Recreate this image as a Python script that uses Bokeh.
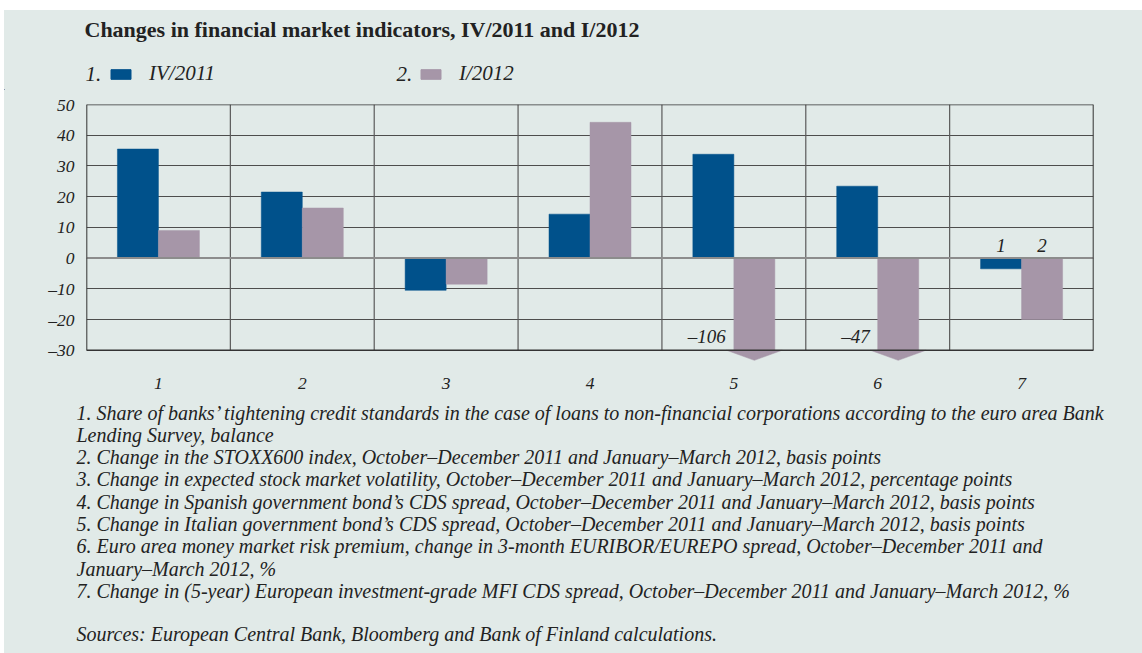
from bokeh.plotting import figure
from bokeh.layouts import column, row
from bokeh.models import Range1d, FixedTicker, Label, Legend, LegendItem, Spacer
from bokeh.embed import file_html
from bokeh.resources import INLINE

# ---------------- data ----------------
categories = ["1", "2", "3", "4", "5", "6", "7"]
iv_2011 = [35.5, 21.5, -10.5, 14.3, 33.8, 23.4, -3.5]
i_2012 = [9.0, 16.3, -8.5, 44.2, -106.0, -47.0, -20.0]
y_ticks = [-30, -20, -10, 0, 10, 20, 30, 40, 50]
y_tick_labels = ["–30", "–20", "–10", "0", "10", "20", "30", "40", "50"]
series_names = ["IV/2011", "I/2012"]
series_numbers = ["1.", "2."]
title_text = "Changes in financial market indicators, IV/2011 and I/2012"
footnotes = [
    "1. Share of banks’ tightening credit standards in the case of loans to non-financial corporations according to the euro area Bank",
    "Lending Survey, balance",
    "2. Change in the STOXX600 index, October–December 2011 and January–March 2012, basis points",
    "3. Change in expected stock market volatility, October–December 2011 and January–March 2012, percentage points",
    "4. Change in Spanish government bond’s CDS spread, October–December 2011 and January–March 2012, basis points",
    "5. Change in Italian government bond’s CDS spread, October–December 2011 and January–March 2012, basis points",
    "6. Euro area money market risk premium, change in 3-month EURIBOR/EUREPO spread, October–December 2011 and",
    "January–March 2012, %",
    "7. Change in (5-year) European investment-grade MFI CDS spread, October–December 2011 and January–March 2012, %",
]
sources = "Sources: European Central Bank, Bloomberg and Bank of Finland calculations."

# ---------------- style ----------------
BG = "#e1eae8"
BLUE = "#00518b"
MAUVE = "#a696a8"
TXT = "#222222"
FONT = "Liberation Serif"
Y_MIN, Y_MAX = -30, 50
BAR_W = 0.285
W = 1138
H_HEAD, H_MAIN, H_FOOT = 80, 312, 251


def blank_fig(h):
    f = figure(width=W, height=h, x_range=Range1d(0, W), y_range=Range1d(0, h),
               x_axis_type=None, y_axis_type=None, output_backend="svg", toolbar_location=None,
               min_border=0, frame_align=False)
    f.background_fill_color = BG
    f.border_fill_color = BG
    f.outline_line_color = None
    f.grid.visible = False
    return f


# ---------------- header: title + legend ----------------
head = blank_fig(H_HEAD)
head.add_layout(Label(x=80, y=61, x_units="screen", y_units="screen", text=title_text,
                      text_font=FONT, text_font_style="bold", text_font_size="22px",
                      text_color=TXT, text_baseline="alphabetic"))
colors = [BLUE, MAUVE]
for name, num, col, x_sw, x_num in zip(series_names, series_numbers, colors, [104, 414], [81, 392]):
    # legend proxy placed outside the visible range, only used for the legend swatch
    proxy = head.vbar(x=[-500], top=[1], width=1, fill_color=col, line_color=col)
    lg = Legend(items=[LegendItem(label=name, renderers=[proxy])], location=(x_sw, 4),
                orientation="horizontal", glyph_width=25, glyph_height=12, label_standoff=16,
                padding=0, margin=0, border_line_alpha=0, background_fill_alpha=0,
                label_text_font=FONT, label_text_font_style="italic", label_text_font_size="21px",
                label_text_color=TXT)
    head.add_layout(lg)
    head.add_layout(Label(x=x_num, y=17, x_units="screen", y_units="screen", text=num,
                          text_font=FONT, text_font_style="italic", text_font_size="21px",
                          text_color=TXT, text_baseline="alphabetic"))

# ---------------- main chart ----------------
n = len(categories)
p = figure(width=W, height=H_MAIN, x_range=Range1d(0, n), y_range=Range1d(-34, Y_MAX),
           output_backend="svg", toolbar_location=None, frame_align=False,
           min_border_left=82, min_border_right=49, min_border_top=14, min_border_bottom=40)
p.background_fill_color = BG
p.border_fill_color = BG
p.outline_line_color = None

centers = [i + 0.5 for i in range(n)]
blue_x = [c - BAR_W / 2 for c in centers]
mauve_x = [c + BAR_W / 2 for c in centers]
mauve_shown = [max(v, Y_MIN) for v in i_2012]

p.xgrid.visible = False
p.ygrid.ticker = FixedTicker(ticks=y_ticks)
p.ygrid.grid_line_color = "#4d4d4d"
p.ygrid.grid_line_width = 1

bounds = list(range(n + 1))
p.segment(x0=bounds, y0=[Y_MIN] * len(bounds), x1=bounds, y1=[Y_MAX] * len(bounds),
          line_color="#5a5a5a", line_width=1.2)

p.vbar(x=blue_x, top=iv_2011, bottom=0, width=BAR_W, fill_color=BLUE, line_color=BLUE, line_width=0.5)
p.vbar(x=mauve_x, top=mauve_shown, bottom=0, width=BAR_W, fill_color=MAUVE, line_color=MAUVE, line_width=0.5)

off = [i for i, v in enumerate(i_2012) if v < Y_MIN]
xs, ys = [], []
for i in off:
    cx = mauve_x[i]
    hw = BAR_W * 0.68
    xs.append([cx - hw, cx + hw, cx])
    ys.append([Y_MIN, Y_MIN, Y_MIN - 3.3])
p.patches(xs=xs, ys=ys, fill_color=MAUVE, line_color=MAUVE, line_width=0.5)

p.segment(x0=[0], y0=[0], x1=[n], y1=[0], line_color="#8c8c8c", line_width=2)
p.segment(x0=[0, 0, n], y0=[Y_MIN, Y_MIN, Y_MIN], x1=[n, 0, n], y1=[Y_MIN, Y_MAX, Y_MAX],
          line_color="#333333", line_width=1.5)
p.segment(x0=[0], y0=[Y_MAX], x1=[n], y1=[Y_MAX], line_color="#333333", line_width=1.5)

for i in off:
    p.add_layout(Label(x=mauve_x[i] - BAR_W / 2, y=Y_MIN, x_offset=-8, y_offset=3,
                       text="–" + str(abs(int(i_2012[i]))), text_align="right", text_baseline="bottom",
                       text_font=FONT, text_font_style="italic", text_font_size="19px", text_color=TXT))

last = n - 1
for xx, num in zip([blue_x[last], mauve_x[last]], series_numbers):
    p.add_layout(Label(x=xx, y=0, y_offset=6, text=num.rstrip("."), text_align="center",
                       text_baseline="bottom", text_font=FONT, text_font_style="italic",
                       text_font_size="19px", text_color=TXT))

for ax in (p.yaxis, p.xaxis):
    ax.axis_line_color = None
    ax.major_tick_line_color = None
    ax.minor_tick_line_color = None
    ax.major_label_text_font = FONT
    ax.major_label_text_font_style = "italic"
    ax.major_label_text_font_size = "17.5px"
    ax.major_label_text_color = TXT

p.yaxis.ticker = FixedTicker(ticks=y_ticks)
p.yaxis.major_label_overrides = {t: l for t, l in zip(y_ticks, y_tick_labels)}
p.yaxis.major_label_standoff = 6
p.xaxis.ticker = FixedTicker(ticks=centers)
p.xaxis.major_label_overrides = {c: l for c, l in zip(centers, categories)}
p.xaxis.major_label_standoff = 9

# ---------------- footer: notes ----------------
foot = blank_fig(H_FOOT)
for k, line in enumerate(footnotes):
    foot.add_layout(Label(x=72, y=241 - 22.3 * k, x_units="screen", y_units="screen", text=line,
                          text_font=FONT, text_font_style="italic", text_font_size="20px",
                          text_color=TXT, text_baseline="alphabetic"))
foot.add_layout(Label(x=72, y=20, x_units="screen", y_units="screen", text=sources,
                      text_font=FONT, text_font_style="italic", text_font_size="20px",
                      text_color=TXT, text_baseline="alphabetic"))

panel = column(head, p, foot, spacing=0, styles={"background-color": BG})
page = column(Spacer(height=10, width=10), row(Spacer(width=4, height=10), panel))
open("out.html", "w").write(file_html(page, INLINE))
